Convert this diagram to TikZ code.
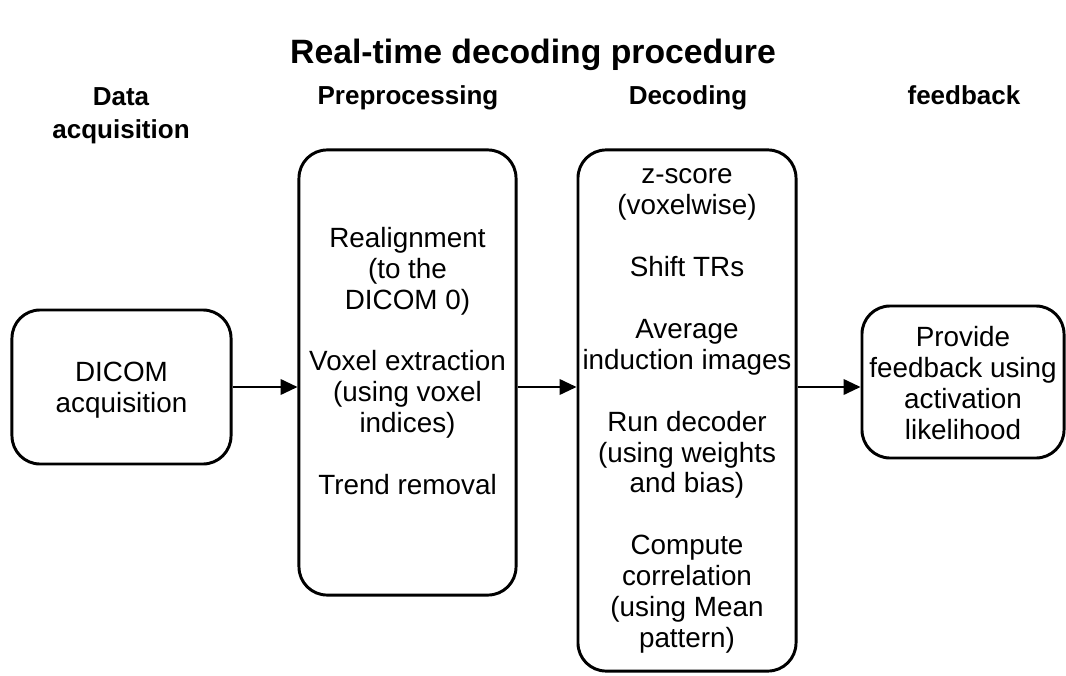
\documentclass[tikz,border=0pt]{standalone}
\usepackage{fontspec}
\setmainfont{Liberation Sans}
\usepackage{tikz}
\usetikzlibrary{positioning,arrows.meta}

\begin{document}
\begin{tikzpicture}[x=0.025cm, y=-0.025cm,
    stage/.style={draw, rectangle, rounded corners=20pt, line width=2.1pt, fill=white},
    boxtext/.style={align=center, font=\fontsize{19.8}{22}\selectfont},
    header/.style={align=center, font=\fontsize{18.5}{23.4}\selectfont\bfseries},
    flow/.style={-{Triangle[length=12pt,width=11pt]}, line width=1.5pt}]
    \useasboundingbox (0,0) rectangle (1066,676);

    % Title
    \node [font=\fontsize{24}{28}\selectfont\bfseries] (title) at (533, 55) {Real-time decoding procedure};

    % Column headers
    \node [header] (hacq) at (121, 116) {Data\\acquisition};
    \node [header, anchor=base] (hpre) at (408, 105) {Preprocessing};
    \node [header, anchor=base] (hdec) at (688, 105) {Decoding};
    \node [header, anchor=base] (hfb) at (964, 105) {feedback};

    % Boxes
    \node [stage, minimum width=5.475cm, minimum height=3.85cm] (acq) at (121.5, 387) {};
    \node [stage, minimum width=5.425cm, minimum height=11.125cm] (pre) at (407.5, 372.5) {};
    \node [stage, minimum width=5.45cm, minimum height=13.025cm] (dec) at (687, 410.5) {};
    \node [stage, minimum width=5.05cm, minimum height=3.8cm] (fb) at (963, 382) {};

    % Box texts
    \node [boxtext] (tacq) at (121.5, 390) {DICOM\\acquisition};
    \node [boxtext] (tpre) at (407.5, 361) {Realignment\\(to the\\DICOM 0)\\[22pt]Voxel extraction\\(using voxel\\indices)\\[22pt]Trend removal};
    \node [boxtext] (tdec) at (687, 411) {z-score\\(voxelwise)\\[22pt]Shift TRs\\[22pt]Average\\induction images\\[22pt]Run decoder\\(using weights\\and bias)\\[22pt]Compute\\correlation\\(using Mean\\pattern)};
    \node [boxtext] (tfb) at (963, 383) {Provide\\feedback using\\activation\\likelihood};

    % Arrows
    \draw [flow] (acq.east) -- (acq.east -| pre.west);
    \draw [flow] (pre.east |- acq.east) -- (dec.west |- acq.east);
    \draw [flow] (dec.east |- acq.east) -- (fb.west |- acq.east);
\end{tikzpicture}
\end{document}
